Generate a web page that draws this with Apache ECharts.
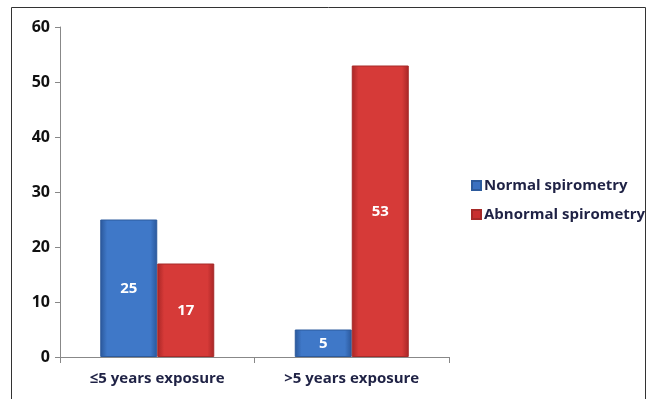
<!DOCTYPE html>
<html>
<head>
<meta charset="utf-8">
<script src="https://cdn.jsdelivr.net/npm/echarts@6/dist/echarts.min.js"></script>
<style>
  html, body { margin: 0; padding: 0; background: #fff; }
  #chart { width: 657px; height: 399px; }
</style>
</head>
<body>
<div id="chart"></div>
<script>
var categories = ['≤5 years exposure', '>5 years exposure'];
var normalValues = [25, 5];
var abnormalValues = [17, 53];
var yTicks = [0, 10, 20, 30, 40, 50, 60];

var chart = echarts.init(document.getElementById('chart'));

function barColor(light, dark) {
    return new echarts.graphic.LinearGradient(0, 0, 1, 0, [
        {offset: 0, color: dark},
        {offset: 0.12, color: light},
        {offset: 0.88, color: light},
        {offset: 1, color: dark}
    ]);
}

var labelStyle = {
    show: true,
    position: 'inside',
    color: '#fff',
    fontWeight: 'bold',
    fontSize: 15,
    fontFamily: 'Open Sans'
};

var option = {
    animation: false,
    graphic: [{
        type: 'rect',
        shape: {x: 11.5, y: 7.5, width: 634, height: 400},
        style: {fill: 'none', stroke: '#333', lineWidth: 1}
    }],
    grid: {left: 60, top: 27, right: 208, bottom: 42},
    legend: {
        orient: 'vertical',
        left: 466,
        top: 173,
        itemWidth: 9,
        itemHeight: 9,
        itemGap: 14,
        icon: 'rect',
        textStyle: {fontSize: 15, fontWeight: 'bold', color: '#1f2245', fontFamily: 'Open Sans', padding: [0, 0, 0, -2]},
        data: [
            {name: 'Normal spirometry', itemStyle: {color: '#3a70c0'}},
            {name: 'Abnormal spirometry', itemStyle: {color: '#c83030'}}
        ]
    },
    xAxis: {
        type: 'category',
        data: categories,
        axisLine: {lineStyle: {color: '#888'}},
        axisTick: {show: true, length: 6, lineStyle: {color: '#888'}},
        axisLabel: {fontSize: 15, fontWeight: 'bold', color: '#1f2245', margin: 14, fontFamily: 'Open Sans'}
    },
    yAxis: {
        type: 'value',
        min: 0,
        max: 60,
        interval: 10,
        axisLine: {show: true, lineStyle: {color: '#888'}},
        axisTick: {show: true, length: 5, lineStyle: {color: '#888'}},
        splitLine: {show: false},
        axisLabel: {
            fontSize: 16, fontWeight: 'bold', color: '#111', margin: 10, fontFamily: 'Open Sans',
            formatter: function (v) { return yTicks.indexOf(v) >= 0 ? String(v) : ''; }
        }
    },
    series: [
        {
            name: 'Normal spirometry',
            type: 'bar',
            data: normalValues,
            barWidth: 57,
            barGap: '0%',
            itemStyle: {color: barColor('#3f78c8', '#2a579a'), borderColor: '#2c5a9c', borderWidth: 1},
            label: labelStyle
        },
        {
            name: 'Abnormal spirometry',
            type: 'bar',
            data: abnormalValues,
            barWidth: 57,
            itemStyle: {color: barColor('#d63a38', '#a82626'), borderColor: '#a62a28', borderWidth: 1},
            label: labelStyle
        }
    ]
};
chart.setOption(option);
</script>
</body>
</html>
